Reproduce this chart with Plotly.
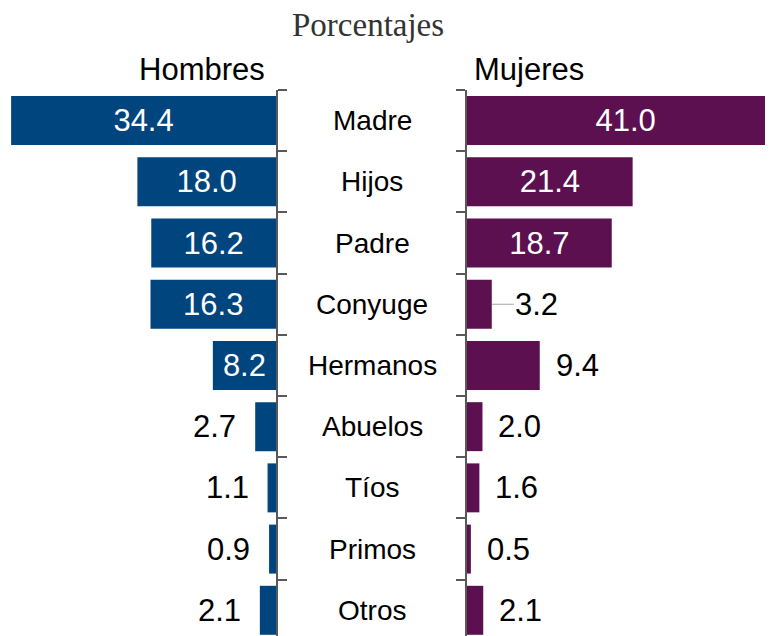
import plotly.graph_objects as go

categorias = ["Madre", "Hijos", "Padre", "Conyuge", "Hermanos", "Abuelos", "Tíos", "Primos", "Otros"]
hombres = [34.4, 18.0, 16.2, 16.3, 8.2, 2.7, 1.1, 0.9, 2.1]
mujeres = [41.0, 21.4, 18.7, 3.2, 9.4, 2.0, 1.6, 0.5, 2.1]
# label inside bar (white) or outside (black)
h_inside = [True, True, True, True, True, False, False, False, False]
m_inside = [True, True, True, False, False, False, False, False, False]

OFF = 8  # default page body margin
W, H = 773 - OFF, 636 - OFF
TOP = 90 - OFF
BLUE = "#00457E"
PURPLE = "#5C1050"
AXC = "#595959"

LAX = 276 - OFF   # left axis pixel (figure coords)
RAX = 467 - OFF   # right axis pixel
SCALE_L = 7.7     # px per unit
SCALE_R = 7.74

ypos = list(range(len(categorias)))

fig = go.Figure()
fig.add_trace(go.Bar(
    x=hombres, y=ypos, orientation="h", xaxis="x", yaxis="y",
    marker=dict(color=BLUE, line=dict(width=0)), width=0.8,
    text=[f"{v:.1f}" if ins else "" for v, ins in zip(hombres, h_inside)],
    textposition="inside", insidetextanchor="middle",
    textfont=dict(family="Liberation Sans, Arial", size=31, color="white"),
    hoverinfo="skip", showlegend=False,
))
fig.add_trace(go.Bar(
    x=mujeres, y=ypos, orientation="h", xaxis="x2", yaxis="y2",
    marker=dict(color=PURPLE, line=dict(width=0)), width=0.8,
    text=[f"{v:.1f}" if ins else "" for v, ins in zip(mujeres, m_inside)],
    textposition="inside", insidetextanchor="middle",
    textfont=dict(family="Liberation Sans, Arial", size=31, color="white"),
    hoverinfo="skip", showlegend=False,
))

annotations = []
lab_font = dict(family="Liberation Sans, Arial", size=31, color="black")
for i, (v, ins) in enumerate(zip(hombres, h_inside)):
    if not ins:
        annotations.append(dict(x=v, y=i, xref="x", yref="y", text=f"{v:.1f}",
                                showarrow=False, xanchor="right", xshift=-17, font=lab_font))
for i, (v, ins) in enumerate(zip(mujeres, m_inside)):
    if not ins:
        if categorias[i] == "Conyuge":
            annotations.append(dict(x=v, y=i, xref="x2", yref="y2", text=f"{v:.1f}",
                                    showarrow=True, arrowhead=0, arrowwidth=1.2,
                                    arrowcolor="#A6A6A6", ax=45, ay=0, standoff=0,
                                    font=lab_font))
        else:
            annotations.append(dict(x=v, y=i, xref="x2", yref="y2", text=f"{v:.1f}",
                                    showarrow=False, xanchor="left", xshift=14, font=lab_font))

cat_font = dict(family="Liberation Sans, Arial", size=28, color="black")
for i, c in enumerate(categorias):
    annotations.append(dict(x=(372 - OFF) / W, y=i, xref="paper", yref="y", text=c,
                            showarrow=False, xanchor="center", font=cat_font))

def px_x(px):
    return (px - OFF) / W

def px_y(px):
    return (H - (px - OFF)) / (H - TOP)

annotations.append(dict(x=px_x(202), y=px_y(70), xref="paper", yref="paper", text="Hombres",
                        showarrow=False, xanchor="center", yanchor="middle",
                        font=dict(family="Liberation Sans, Arial", size=31, color="black")))
annotations.append(dict(x=px_x(529), y=px_y(70), xref="paper", yref="paper", text="Mujeres",
                        showarrow=False, xanchor="center", yanchor="middle",
                        font=dict(family="Liberation Sans, Arial", size=31, color="black")))
annotations.append(dict(x=px_x(368), y=px_y(25), xref="paper", yref="paper", text="Porcentajes",
                        showarrow=False, xanchor="center", yanchor="middle",
                        font=dict(family="Liberation Serif, Times New Roman", size=33, color="#333333")))

yrange = [8.42, -0.5]
tickv = [i - 0.5 for i in range(len(categorias) + 1)]

fig.update_layout(
    width=W, height=H,
    margin=dict(l=0, r=0, t=TOP, b=0),
    paper_bgcolor="white", plot_bgcolor="white",
    bargap=0.2,
    xaxis=dict(domain=[0, LAX / W], range=[LAX / SCALE_L, 0], visible=False, fixedrange=True),
    xaxis2=dict(domain=[RAX / W, 1], range=[0, (W - RAX) / SCALE_R], visible=False, fixedrange=True),
    yaxis=dict(anchor="x", side="right", range=yrange, showline=True, linecolor=AXC, linewidth=2,
               ticks="outside", tickvals=tickv, ticklen=9, tickwidth=2, tickcolor=AXC,
               showticklabels=False, showgrid=False, zeroline=False, fixedrange=True),
    yaxis2=dict(anchor="x2", side="left", range=yrange, showline=True, linecolor=AXC, linewidth=2,
                ticks="outside", tickvals=tickv, ticklen=9, tickwidth=2, tickcolor=AXC,
                showticklabels=False, showgrid=False, zeroline=False, fixedrange=True),
    annotations=annotations,
)

fig.write_html("out.html", config={"displayModeBar": False})
